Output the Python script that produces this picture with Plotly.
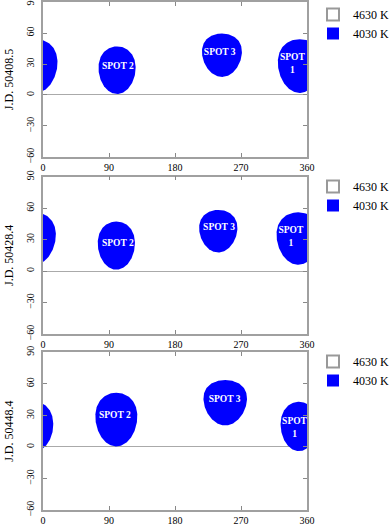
import numpy as np
import plotly.graph_objects as go
from plotly.subplots import make_subplots

# observation dates (one panel each)
dates = ["J.D. 50408.5", "J.D. 50428.4", "J.D. 50448.4"]
spot_names = ["SPOT<br>1", "SPOT 2", "SPOT 3"]

# spot centres (longitude, latitude) and angular radius, in degrees
spot_lon = [[350, 101, 244], [348, 100, 239], [349, 100, 248.5]]
spot_lat = [[28, 24, 38.5], [31, 24.3, 38], [19.5, 26, 42]]
spot_rad = [[26, 23, 21], [25, 23, 20.3], [23.5, 25.5, 21.6]]

# label positions
label_lon = [[340, 102, 241], [338, 102, 240], [343, 98, 247.7]]
label_lat = [[30, 27, 41], [32.5, 25.7, 41.6], [18, 29.8, 45]]

temps = ["4630 K", "4030 K"]
temp_colors = ["white", "#0000ff"]

xticks = [0, 90, 180, 270, 360]
yticks = [-60, -30, 0, 30, 60, 90]

serif = "Liberation Serif"


def cap_outline(lon0, lat0, r):
    # boundary of a circular spot on the sphere, in lon/lat
    t = np.radians(np.linspace(0, 360, 181))
    la0, lo0, rr = np.radians(lat0), np.radians(lon0), np.radians(r)
    la = np.arcsin(np.sin(la0) * np.cos(rr) + np.cos(la0) * np.sin(rr) * np.cos(t))
    lo = lo0 + np.arctan2(np.sin(t) * np.sin(rr) * np.cos(la0),
                          np.cos(rr) - np.sin(la0) * np.sin(la))
    return np.degrees(lo), np.degrees(la)


fig = make_subplots(rows=3, cols=1, vertical_spacing=0.0385)
domains = [[0.6949, 1.0], [0.3465, 0.6561], [0.0, 0.3104]]
legend_top = [-6, 172, 347]  # px from top of the page

for p in range(3):
    row = p + 1
    for s in range(3):
        lo, la = cap_outline(spot_lon[p][s], spot_lat[p][s], spot_rad[p][s])
        for shift in (-360, 0, 360):
            fig.add_trace(go.Scatter(x=lo + shift, y=la, mode="lines", fill="toself",
                                     fillcolor="#0000ff", line=dict(width=0, color="#0000ff"),
                                     hoverinfo="skip", showlegend=False), row=row, col=1)
    fig.add_trace(go.Scatter(x=label_lon[p], y=label_lat[p], mode="text", text=spot_names,
                             textfont=dict(family=serif, size=9.5, color="white", weight="bold"),
                             cliponaxis=True, hoverinfo="skip", showlegend=False), row=row, col=1)

    leg = "legend" if p == 0 else "legend%d" % (p + 1)
    for name, col in zip(temps, temp_colors):
        fig.add_trace(go.Scatter(x=[None], y=[None], mode="markers", name=name, legend=leg,
                                 marker=dict(symbol="square", size=14, color=col,
                                             line=dict(color="#999999", width=1 if col == "white" else 0))),
                      row=row, col=1)

    fig.update_xaxes(range=[0, 360], tickvals=xticks, ticks="inside", ticklen=4, tickcolor="#888",
                     showline=True, linecolor="#a0a0a0", linewidth=1.5, mirror="ticks",
                     showgrid=False, zeroline=False, domain=[0, 1], automargin=False,
                     ticklabeloverflow="allow",
                     tickfont=dict(family=serif, size=10, color="black"), row=row, col=1)
    fig.update_yaxes(range=[-60, 90], tickvals=yticks, ticks="inside", ticklen=4, tickcolor="#888",
                     showline=True, linecolor="#a0a0a0", linewidth=1.5, mirror="ticks",
                     showgrid=False, zeroline=True, zerolinecolor="#aaaaaa", zerolinewidth=1,
                     tickangle=-90, domain=domains[p], automargin=False, ticklabelstandoff=3,
                     ticklabeloverflow="allow",
                     tickfont=dict(family=serif, size=10, color="black"),
                     title=dict(text=dates[p], font=dict(family=serif, size=12, color="black"),
                                standoff=9),
                     row=row, col=1)

legend_style = dict(xref="container", yref="container", x=313 / 389, xanchor="left",
                    yanchor="top", bgcolor="rgba(0,0,0,0)",
                    font=dict(family=serif, size=12, color="black"), itemsizing="constant")
fig.update_layout(
    width=389, height=525,
    margin=dict(l=43, r=82, t=2, b=15),
    paper_bgcolor="white", plot_bgcolor="white",
    font=dict(family=serif, color="black"),
    legend=dict(y=1 - legend_top[0] / 525, **legend_style),
    legend2=dict(y=1 - legend_top[1] / 525, **legend_style),
    legend3=dict(y=1 - legend_top[2] / 525, **legend_style),
)

fig.write_html("out.html", config={"displayModeBar": False},
               post_script="document.body.style.margin='0';")
